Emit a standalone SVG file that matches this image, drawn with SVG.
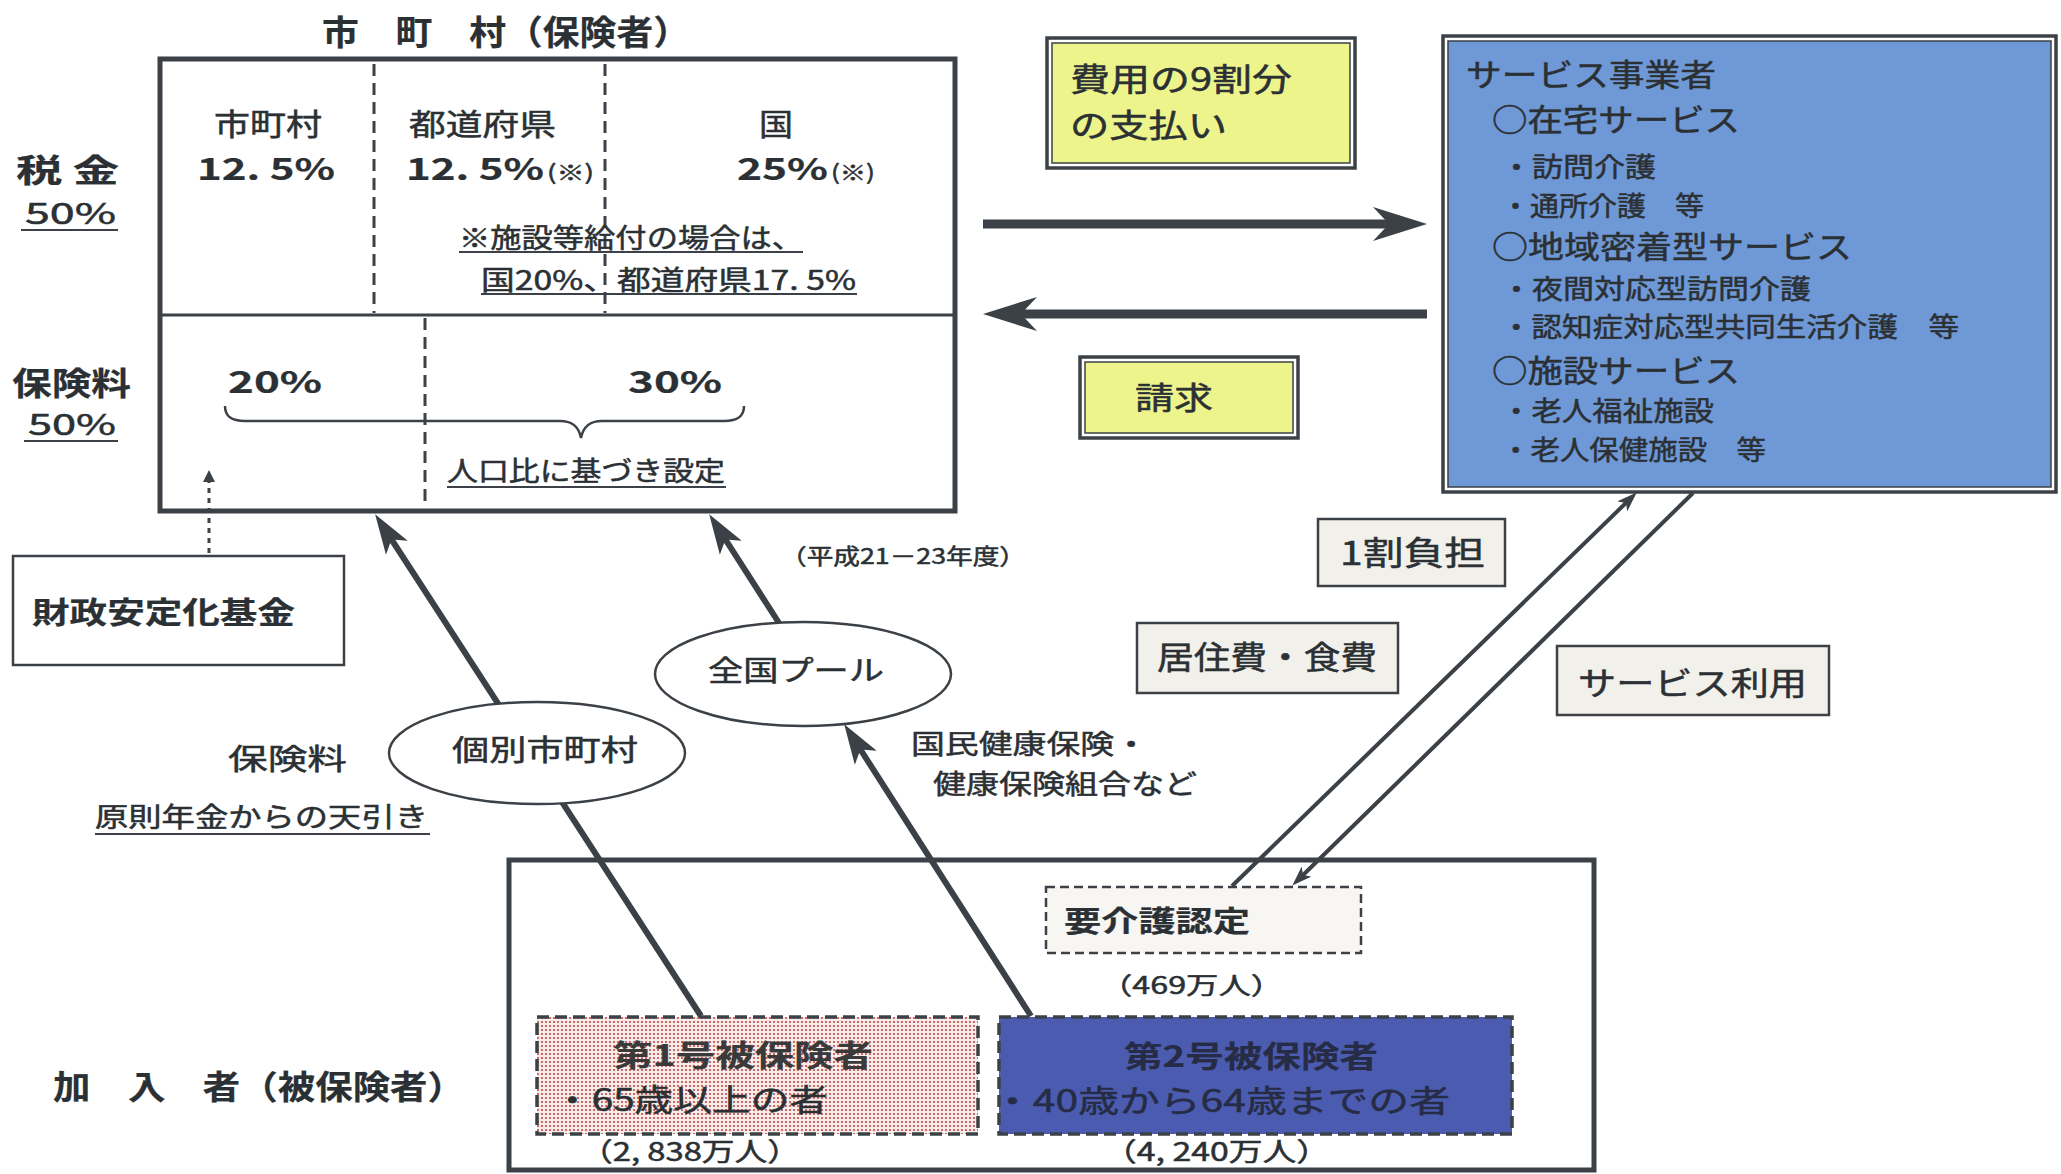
<svg xmlns="http://www.w3.org/2000/svg" width="2061" height="1174" viewBox="0 0 2061 1174">
<defs>
<style>
.t{font-family:"Noto Sans CJK JP","Noto Sans",sans-serif;fill:#2b3034;stroke:#2b3034;stroke-width:0.5}
.b{font-weight:700;stroke-width:0.2}
.ln{stroke:#3b4146;fill:none}
.ul{stroke:#3b4146;stroke-width:2}
.dbo{fill:none;stroke:#3b4146;stroke-width:3.5}
.dbi{stroke:#3b4146;stroke-width:1.5}
.lbl{fill:#f2f0ea;stroke:#3b4146;stroke-width:2.5}
.wf{fill:#ffffff;stroke:#3b4146}
</style>
<pattern id="dots" width="4" height="4" patternUnits="userSpaceOnUse"><rect width="4" height="4" fill="#f6ecea"/><circle cx="2" cy="2" r="1.1" fill="#c24a46"/></pattern>
<marker id="big" viewBox="0 0 54 34" markerUnits="userSpaceOnUse" markerWidth="54" markerHeight="34" refX="30" refY="17" orient="auto"><path d="M0,0 L54,17 L0,34 L16,17 z" fill="#3b4146"/></marker>
<marker id="stealth" viewBox="0 0 40 28" markerUnits="userSpaceOnUse" markerWidth="40" markerHeight="28" refX="20" refY="14" orient="auto"><path d="M0,1 L40,14 L0,27 L10,14 z" fill="#3b4146"/></marker>
<marker id="small" viewBox="0 0 20 14" markerUnits="userSpaceOnUse" markerWidth="20" markerHeight="14" refX="12" refY="7" orient="auto"><path d="M0,0 L20,7 L0,14 L5,7 z" fill="#3b4146"/></marker>
<marker id="tri" viewBox="0 0 12 12" markerUnits="userSpaceOnUse" markerWidth="12" markerHeight="12" refX="0" refY="6" orient="auto"><path d="M0,0 L12,6 L0,12 z" fill="#3b4146"/></marker>
</defs>
<rect width="2061" height="1174" fill="#ffffff"/>

<g id="insurer">
<text class="t b" x="322" y="45" font-size="34" textLength="368" lengthAdjust="spacingAndGlyphs">市　町　村（保険者）</text>
<rect x="160" y="59" width="795" height="452" class="ln" stroke-width="5"/>
<line x1="160" y1="315" x2="955" y2="315" class="ln" stroke-width="3"/>
<line x1="374" y1="64" x2="374" y2="313" class="ln" stroke-width="3" stroke-dasharray="12 7"/>
<line x1="605" y1="64" x2="605" y2="313" class="ln" stroke-width="3" stroke-dasharray="12 7"/>
<line x1="425" y1="318" x2="425" y2="508" class="ln" stroke-width="3" stroke-dasharray="12 7"/>
<text class="t" x="214" y="135" font-size="30" textLength="108" lengthAdjust="spacingAndGlyphs">市町村</text>
<text class="t" x="409" y="135" font-size="30" textLength="147" lengthAdjust="spacingAndGlyphs">都道府県</text>
<text class="t" x="759" y="135" font-size="30" textLength="34" lengthAdjust="spacingAndGlyphs">国</text>
<text class="t b" x="197" y="180" font-size="30" textLength="138" lengthAdjust="spacingAndGlyphs">12. 5%</text>
<text class="t b" x="406" y="180" font-size="30" textLength="138" lengthAdjust="spacingAndGlyphs">12. 5%</text>
<text class="t" x="547" y="180" font-size="21" textLength="47" lengthAdjust="spacingAndGlyphs">(※)</text>
<text class="t b" x="737" y="180" font-size="30" textLength="91" lengthAdjust="spacingAndGlyphs">25%</text>
<text class="t" x="831" y="180" font-size="21" textLength="44" lengthAdjust="spacingAndGlyphs">(※)</text>
<text class="t" x="459" y="248" font-size="27" textLength="344" lengthAdjust="spacingAndGlyphs">※施設等給付の場合は、</text>
<line x1="459" y1="252" x2="803" y2="252" class="ul"/>
<text class="t" x="481" y="290" font-size="27" textLength="375" lengthAdjust="spacingAndGlyphs">国20%、都道府県17. 5%</text>
<line x1="481" y1="294" x2="857" y2="294" class="ul"/>
<text class="t b" x="16" y="182" font-size="32" textLength="103" lengthAdjust="spacingAndGlyphs">税 金</text>
<text class="t" x="25" y="224" font-size="29" textLength="91" lengthAdjust="spacingAndGlyphs">50%</text>
<line x1="21" y1="230" x2="118" y2="230" class="ul"/>
<text class="t b" x="12" y="395" font-size="32" textLength="119" lengthAdjust="spacingAndGlyphs">保険料</text>
<text class="t" x="28" y="435" font-size="29" textLength="88" lengthAdjust="spacingAndGlyphs">50%</text>
<line x1="24" y1="441" x2="118" y2="441" class="ul"/>
<text class="t b" x="228" y="393" font-size="30" textLength="94" lengthAdjust="spacingAndGlyphs">20%</text>
<text class="t b" x="628" y="393" font-size="30" textLength="94" lengthAdjust="spacingAndGlyphs">30%</text>
<path d="M225,406 C225,417 232,421 245,421 L560,421 C574,421 579,428 581,438 C583,428 588,421 602,421 L724,421 C737,421 744,417 744,406" class="ln" stroke-width="2.5"/>
<text class="t" x="447" y="481" font-size="27" textLength="278" lengthAdjust="spacingAndGlyphs">人口比に基づき設定</text>
<line x1="447" y1="487" x2="726" y2="487" class="ul"/>
</g>

<g id="members">
<rect x="509" y="860" width="1085" height="310" class="ln" stroke-width="5"/>
<text class="t b" x="53" y="1099" font-size="33" textLength="412" lengthAdjust="spacingAndGlyphs">加　入　者（被保険者）</text>
</g>

<g id="connectors">
<line x1="209" y1="553" x2="209" y2="482" class="ln" stroke-width="3" stroke-dasharray="5 5" marker-end="url(#tri)"/>
<line x1="701" y1="1016" x2="386" y2="531" class="ln" stroke-width="6" marker-end="url(#stealth)"/>
<line x1="1031" y1="1016" x2="855" y2="741" class="ln" stroke-width="6" marker-end="url(#stealth)"/>
<line x1="779" y1="623" x2="720" y2="531" class="ln" stroke-width="6" marker-end="url(#stealth)"/>
<line x1="983" y1="224" x2="1403" y2="224" class="ln" stroke-width="9" marker-end="url(#big)"/>
<line x1="1427" y1="314" x2="1007" y2="314" class="ln" stroke-width="9" marker-end="url(#big)"/>
<line x1="1232" y1="886" x2="1631" y2="498" class="ln" stroke-width="4" marker-end="url(#small)"/>
<line x1="1693" y1="493" x2="1298" y2="880" class="ln" stroke-width="4" marker-end="url(#small)"/>
</g>

<g id="fund">
<rect x="13" y="556" width="331" height="109" class="wf" stroke-width="2.5"/>
<text class="t b" x="32" y="623" font-size="30" textLength="263" lengthAdjust="spacingAndGlyphs">財政安定化基金</text>
</g>

<g id="national-pool">
<ellipse cx="803" cy="674" rx="148" ry="52" class="wf" stroke-width="2.5"/>
<text class="t" x="708" y="681" font-size="28" textLength="176" lengthAdjust="spacingAndGlyphs">全国プール</text>
</g>

<g id="individual">
<ellipse cx="537" cy="753" rx="148" ry="51" class="wf" stroke-width="2.5"/>
<text class="t" x="452" y="761" font-size="29" textLength="186" lengthAdjust="spacingAndGlyphs">個別市町村</text>
</g>

<g id="notes">
<text class="t" x="780" y="564" font-size="22" textLength="246" lengthAdjust="spacingAndGlyphs">（平成21－23年度）</text>
<text class="t" x="228" y="770" font-size="29" textLength="119" lengthAdjust="spacingAndGlyphs">保険料</text>
<text class="t" x="95" y="827" font-size="27" textLength="333" lengthAdjust="spacingAndGlyphs">原則年金からの天引き</text>
<line x1="95" y1="834" x2="430" y2="834" class="ul"/>
<text class="t" x="911" y="754" font-size="27" textLength="237" lengthAdjust="spacingAndGlyphs">国民健康保険・</text>
<text class="t" x="933" y="794" font-size="27" textLength="264" lengthAdjust="spacingAndGlyphs">健康保険組合など</text>
</g>

<g id="payment">
<rect x="1047" y="38" width="308" height="130" class="dbo"/>
<rect x="1052" y="43" width="298" height="120" fill="#eef48c" class="dbi"/>
<text class="t" x="1070" y="91" font-size="32" textLength="222" lengthAdjust="spacingAndGlyphs">費用の9割分</text>
<text class="t" x="1070" y="137" font-size="32" textLength="157" lengthAdjust="spacingAndGlyphs">の支払い</text>
</g>

<g id="claim">
<rect x="1080" y="357" width="218" height="81" class="dbo"/>
<rect x="1085" y="362" width="208" height="71" fill="#eef48c" class="dbi"/>
<text class="t" x="1135" y="409" font-size="31" textLength="78" lengthAdjust="spacingAndGlyphs">請求</text>
</g>

<g id="providers">
<rect x="1443" y="36" width="613" height="456" class="dbo"/>
<rect x="1448" y="41" width="603" height="446" fill="#6f99d6" class="dbi"/>
<text class="t" x="1466" y="86" font-size="31" textLength="250" lengthAdjust="spacingAndGlyphs">サービス事業者</text>
<text class="t" x="1492" y="131" font-size="31" textLength="248" lengthAdjust="spacingAndGlyphs">○在宅サービス</text>
<text class="t" x="1501" y="177" font-size="27" textLength="155" lengthAdjust="spacingAndGlyphs">・訪問介護</text>
<text class="t" x="1501" y="216" font-size="27" textLength="203" lengthAdjust="spacingAndGlyphs">・通所介護　等</text>
<text class="t" x="1492" y="258" font-size="31" textLength="360" lengthAdjust="spacingAndGlyphs">○地域密着型サービス</text>
<text class="t" x="1501" y="299" font-size="27" textLength="310" lengthAdjust="spacingAndGlyphs">・夜間対応型訪問介護</text>
<text class="t" x="1501" y="337" font-size="27" textLength="458" lengthAdjust="spacingAndGlyphs">・認知症対応型共同生活介護　等</text>
<text class="t" x="1492" y="382" font-size="31" textLength="248" lengthAdjust="spacingAndGlyphs">○施設サービス</text>
<text class="t" x="1501" y="421" font-size="27" textLength="213" lengthAdjust="spacingAndGlyphs">・老人福祉施設</text>
<text class="t" x="1501" y="460" font-size="27" textLength="265" lengthAdjust="spacingAndGlyphs">・老人保健施設　等</text>
</g>

<g id="copay">
<rect x="1318" y="519" width="187" height="67" class="lbl"/>
<text class="t" x="1340" y="565" font-size="33" textLength="145" lengthAdjust="spacingAndGlyphs">1割負担</text>
</g>

<g id="living-cost">
<rect x="1137" y="623" width="261" height="70" class="lbl"/>
<text class="t" x="1157" y="669" font-size="32" textLength="220" lengthAdjust="spacingAndGlyphs">居住費・食費</text>
</g>

<g id="service-use">
<rect x="1557" y="646" width="272" height="69" class="lbl"/>
<text class="t" x="1578" y="695" font-size="32" textLength="229" lengthAdjust="spacingAndGlyphs">サービス利用</text>
</g>

<g id="certification">
<rect x="1046" y="887" width="315" height="66" style="fill:#f7f6f3" class="ln" stroke-width="2.5" stroke-dasharray="9 5"/>
<text class="t b" x="1064" y="932" font-size="29" textLength="186" lengthAdjust="spacingAndGlyphs">要介護認定</text>
<text class="t" x="1100" y="994" font-size="24" textLength="183" lengthAdjust="spacingAndGlyphs">（469万人）</text>
</g>

<g id="insured-1">
<rect x="537" y="1017" width="441" height="117" style="fill:url(#dots)" class="ln" stroke-width="3.5" stroke-dasharray="12 6"/>
<text class="t b" x="613" y="1066" font-size="30" textLength="260" lengthAdjust="spacingAndGlyphs" style="fill:#3a3a3a;stroke:#3a3a3a">第1号被保険者</text>
<text class="t" x="553" y="1111" font-size="31" textLength="275" lengthAdjust="spacingAndGlyphs">・65歳以上の者</text>
<text class="t" x="580" y="1161" font-size="26" textLength="220" lengthAdjust="spacingAndGlyphs">（2, 838万人）</text>
</g>

<g id="insured-2">
<rect x="999" y="1017" width="513" height="117" style="fill:#4b5cb0" class="ln" stroke-width="3.5" stroke-dasharray="12 6"/>
<text class="t b" x="1124" y="1067" font-size="30" textLength="254" lengthAdjust="spacingAndGlyphs" style="fill:#262c45;stroke:#262c45">第2号被保険者</text>
<text class="t" x="992" y="1112" font-size="31" textLength="458" lengthAdjust="spacingAndGlyphs" style="fill:#262c45;stroke:#262c45">・40歳から64歳までの者</text>
<text class="t" x="1103" y="1161" font-size="26" textLength="227" lengthAdjust="spacingAndGlyphs">（4, 240万人）</text>
</g>
</svg>
